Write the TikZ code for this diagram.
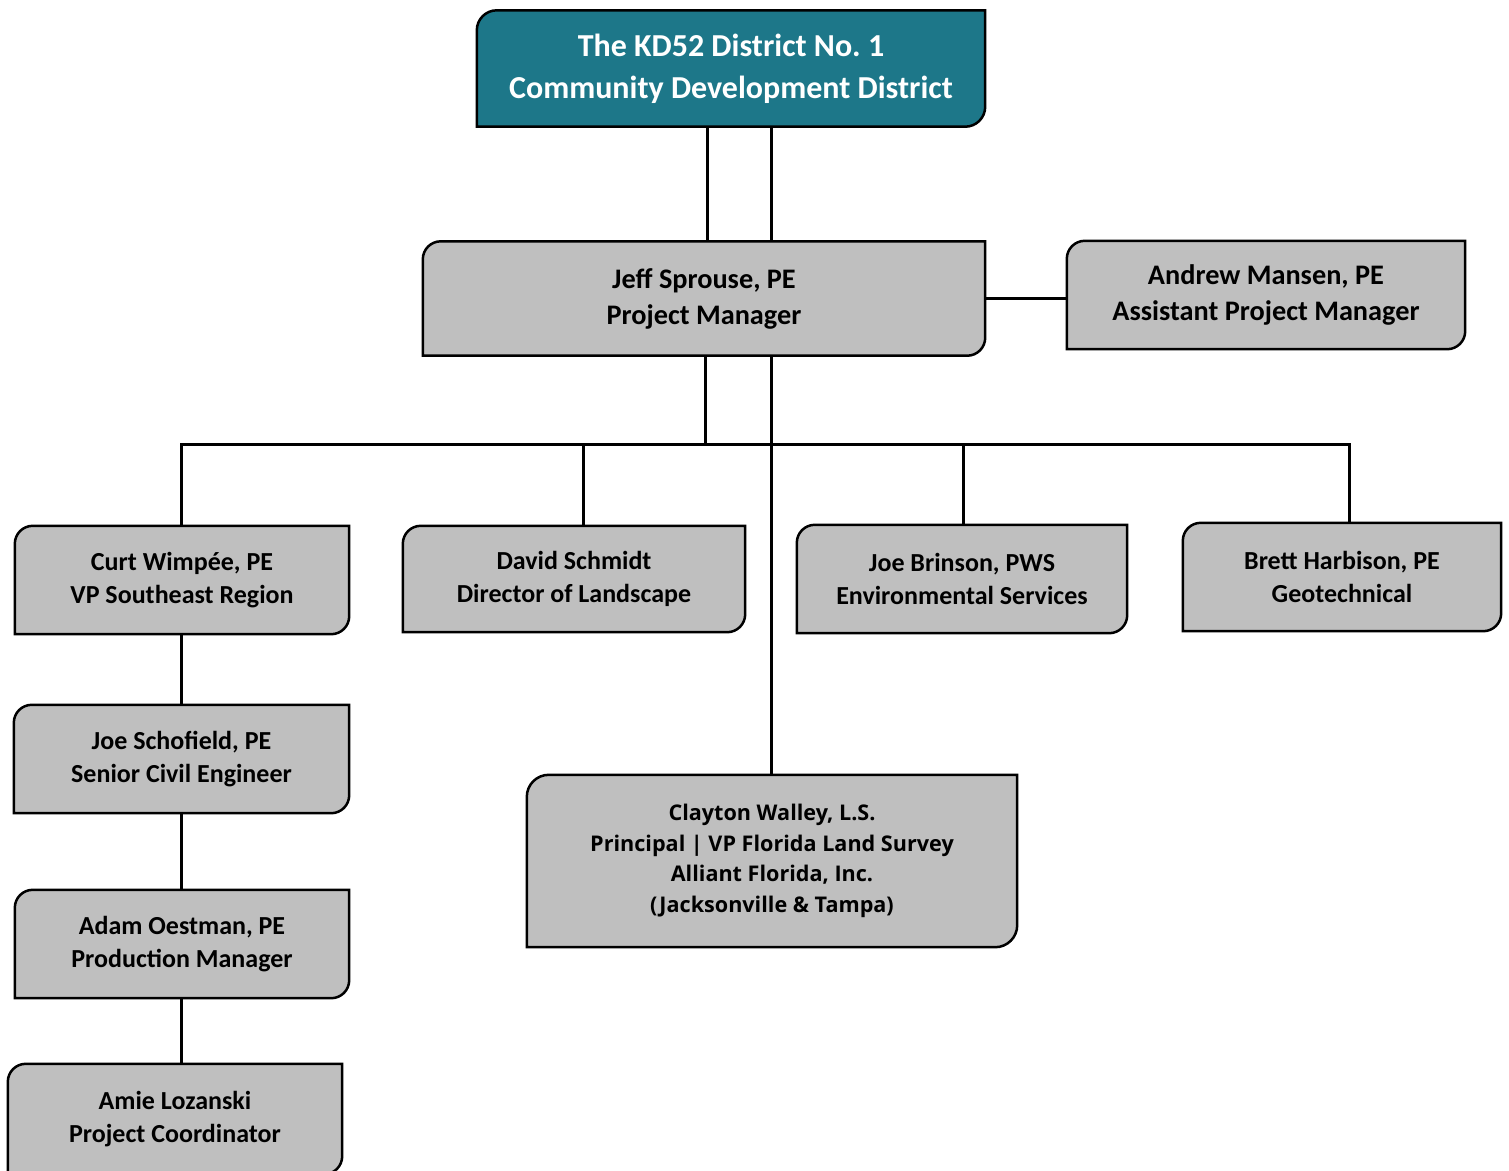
\documentclass[tikz,border=0pt]{standalone}
\usepackage{fontspec}
\setmainfont{Carlito}
\newfontfamily\clayfont{Open Sans}
\usetikzlibrary{backgrounds}
\frenchspacing
\definecolor{tealbox}{HTML}{1D7789}
\definecolor{greybox}{HTML}{BFBFBF}
\tikzset{
  orgnode/.style={inner sep=0pt, align=center, text=black,
    font=\fontsize{26}{33}\selectfont\bfseries},
  topnode/.style={orgnode, text=white, font=\fontsize{32}{42}\selectfont\bfseries},
  bignode/.style={orgnode, font=\fontsize{28.3}{36}\selectfont\bfseries},
  claynode/.style={orgnode, font=\clayfont\fontsize{21.6}{30.5}\selectfont\bfseries},
  boxline/.style={draw=black, line width=2.5pt},
  link/.style={draw=black, line width=3pt},
}
\newcommand\boxshape[3]{%
  \draw[boxline, fill=#2] (#1.south west) -- ([yshift=-#3]#1.north west)
    .. controls ([yshift=-0.448*#3]#1.north west) and ([xshift=0.448*#3]#1.north west) .. ([xshift=#3]#1.north west) -- (#1.north east)
    -- ([yshift=#3]#1.south east) .. controls ([yshift=0.448*#3]#1.south east) and ([xshift=-0.448*#3]#1.south east) .. ([xshift=-#3]#1.south east) -- cycle;}
\begin{document}
\begin{tikzpicture}[x=1pt,y=-1pt]
\useasboundingbox (0,0) rectangle (1509,1170);
\node[topnode, minimum width=508pt, minimum height=116pt] (top) at (731,68.5)
  {The KD52 District No.\ 1\\Community Development District};
\node[bignode, minimum width=562pt, minimum height=114pt] (jeff) at (704,298.5)
  {Jeff Sprouse, PE\\Project Manager};
\node[bignode, minimum width=398pt, minimum height=108pt] (andrew) at (1266,295)
  {Andrew Mansen, PE\\Assistant Project Manager};
\node[orgnode, minimum width=334pt, minimum height=108pt] (curt) at (182,580)
  {Curt Wimpée, PE\\VP Southeast Region};
\node[orgnode, minimum width=342pt, minimum height=106pt] (david) at (574,579)
  {David Schmidt\\Director of Landscape};
\node[orgnode, minimum width=330pt, minimum height=108pt] (brinson) at (962,579)
  {Joe Brinson, PWS\\Environmental Services};
\node[orgnode, minimum width=318pt, minimum height=108pt] (brett) at (1342,577)
  {Brett Harbison, PE\\Geotechnical};
\node[orgnode, minimum width=335pt, minimum height=108pt] (schofield) at (181.5,759)
  {Joe Schofield, PE\\Senior Civil Engineer};
\node[orgnode, minimum width=334pt, minimum height=108pt] (adam) at (182,944)
  {Adam Oestman, PE\\Production Manager};
\node[orgnode, minimum width=334pt, minimum height=110pt] (amie) at (175,1119)
  {Amie Lozanski\\Project Coordinator};
\node[claynode, minimum width=490pt, minimum height=172pt] (clayton) at (772,861)
  {Clayton Walley, L.S.\\Principal | VP Florida Land Survey\\Alliant Florida, Inc.\\(Jacksonville \& Tampa)};

\begin{scope}[on background layer]
  \boxshape{top}{tealbox}{20pt}
  \boxshape{jeff}{greybox}{18pt}
  \boxshape{andrew}{greybox}{18pt}
  \boxshape{curt}{greybox}{18pt}
  \boxshape{david}{greybox}{18pt}
  \boxshape{brinson}{greybox}{18pt}
  \boxshape{brett}{greybox}{18pt}
  \boxshape{schofield}{greybox}{18pt}
  \boxshape{adam}{greybox}{18pt}
  \boxshape{amie}{greybox}{18pt}
  \boxshape{clayton}{greybox}{22pt}
\end{scope}

\coordinate (va) at (707,0);
\coordinate (vb) at (771,0);
\coordinate (vc) at (705,0);
\coordinate (bL) at (181,444);
\coordinate (bD) at (583,444);
\coordinate (bJ) at (963,444);
\coordinate (bR) at (1349,444);

\draw[link] (va |- top.south) -- (va |- jeff.north);
\draw[link] (vb |- top.south) -- (vb |- jeff.north);
\draw[link] (jeff.east) -- (jeff.east -| andrew.west);
\draw[link] (vc |- jeff.south) -- (vc |- bL);
\draw[link] (vb |- jeff.south) -- (vb |- clayton.north);
\draw[link] (bL |- curt.north) -- (bL) -- (bR) -- (bR |- brett.north);
\draw[link] (bD) -- (bD |- david.north);
\draw[link] (bJ) -- (bJ |- brinson.north);
\draw[link] (bL |- curt.south) -- (bL |- schofield.north);
\draw[link] (bL |- schofield.south) -- (bL |- adam.north);
\draw[link] (bL |- adam.south) -- (bL |- amie.north);
\end{tikzpicture}
\end{document}
